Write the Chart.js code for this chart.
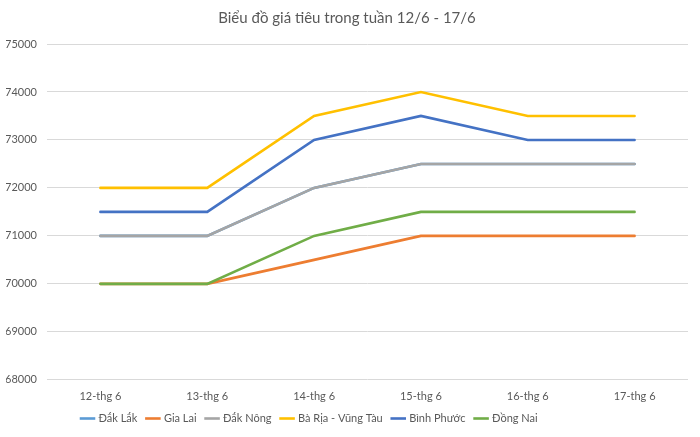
<!DOCTYPE html>
<html><head><meta charset="utf-8">
<script src="https://cdn.jsdelivr.net/npm/chart.js@4"></script>
<style>html,body{margin:0;padding:0;background:#fff}#wrap{width:700px;height:437px}</style>
</head><body><div id="wrap"><canvas id="c" width="700" height="437"></canvas></div>
<script>
const categories = ["12-thg 6","13-thg 6","14-thg 6","15-thg 6","16-thg 6","17-thg 6"];
const seriesNames = ["Đắk Lắk","Gia Lai","Đắk Nông","Bà Rịa - Vũng Tàu","Bình Phước","Đồng Nai"];
const dakLak = [71000,71000,72000,72500,72500,72500];
const giaLai = [70000,70000,70500,71000,71000,71000];
const dakNong = [71000,71000,72000,72500,72500,72500];
const baRia = [72000,72000,73500,74000,73500,73500];
const binhPhuoc = [71500,71500,73000,73500,73000,73000];
const dongNai = [70000,70000,71000,71500,71500,71500];
const colors = ["#5B9BD5","#ED7D31","#A5A5A5","#FFC000","#4472C4","#70AD47"];
const yMin = 68000, yMax = 75000, yStep = 1000;
const titleText = "Biểu đồ giá tiêu trong tuần 12/6 - 17/6";

const seriesData = [dakLak, giaLai, dakNong, baRia, binhPhuoc, dongNai];
const datasets = seriesData.map((d, i) => ({
  label: seriesNames[i], data: d, borderColor: colors[i], backgroundColor: colors[i],
  borderWidth: 2.6, pointRadius: 0, tension: 0, fill: false, order: seriesData.length - i,
  borderCapStyle: 'round'
}));

const LEGEND_REDUCE = 7, LEGEND_SHIFT = 10, LEGEND_LEFT = 72;
const legendShift = {
  id: 'legendShift',
  beforeLayout(chart) {
    const lg = chart.legend;
    if (lg && !lg._patched) {
      const f = lg.fit;
      lg.fit = function () { f.call(this); this.height -= LEGEND_REDUCE; };
      lg._patched = true;
    }
  },
  afterLayout(chart) {
    const lg = chart.legend;
    if (lg) { lg.top -= LEGEND_SHIFT; lg.left = LEGEND_LEFT; }
  }
};

new Chart(document.getElementById('c'), {
  type: 'line',
  data: { labels: categories, datasets },
  plugins: [legendShift],
  options: {
    responsive: false, animation: false,
    layout: { padding: { left: 6, right: 12, top: 0, bottom: 0 } },
    plugins: {
      title: { display: true, text: titleText, color: '#595959',
        font: { family: 'Lato', size: 15, weight: 'normal' }, padding: { top: 9, bottom: 17 } },
      legend: { position: 'bottom', align: 'start',
        labels: { usePointStyle: true, pointStyle: 'line', boxWidth: 20, color: '#595959',
          font: { family: 'Lato', size: 11 }, padding: 10,
          sort: (a, b) => a.datasetIndex - b.datasetIndex } },
      tooltip: { enabled: false }
    },
    scales: {
      x: { offset: true, grid: { display: false, drawTicks: false }, border: { display: false },
        ticks: { color: '#595959', font: { family: 'Lato', size: 11 }, padding: 10, maxRotation: 0 } },
      y: { min: yMin, max: yMax, grid: { color: '#D9D9D9', drawTicks: false, lineWidth: 1 }, border: { display: false },
        ticks: { stepSize: yStep, color: '#595959', font: { family: 'Lato', size: 11 }, padding: 10,
          callback: v => String(v) },
        afterFit: a => { a.width = 41; } }
    }
  }
});
</script></body></html>
